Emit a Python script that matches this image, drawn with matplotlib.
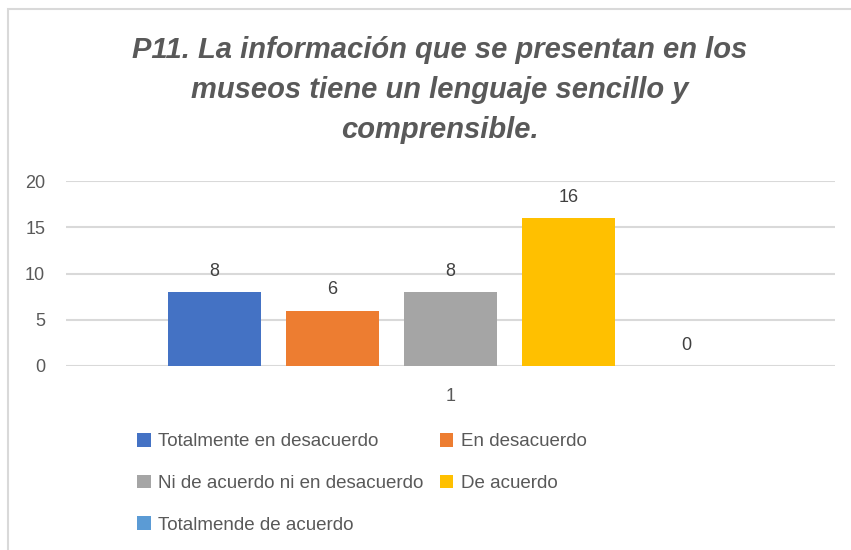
import matplotlib.pyplot as plt
from matplotlib.patches import Rectangle

# data
categories = ['1']
series_names = ['Totalmente en desacuerdo', 'En desacuerdo',
                'Ni de acuerdo ni en desacuerdo', 'De acuerdo',
                'Totalmende de acuerdo']
values = [8, 6, 8, 16, 0]
colors = ['#4472C4', '#ED7D31', '#A5A5A5', '#FFC000', '#5B9BD5']

plt.rcParams['font.family'] = ['Liberation Sans', 'DejaVu Sans']

fig = plt.figure(figsize=(8.51, 5.5), dpi=100)
fig.patches.append(Rectangle((8 / 851, -0.1), 1.2, 1 - 9 / 550 + 0.1,
                             transform=fig.transFigure, fill=False,
                             edgecolor='#D9D9D9', linewidth=1.5))

ax = fig.add_axes([66 / 851, 1 - 366 / 550, (835 - 66) / 851, (366 - 181) / 550])

step = 118 / 769
width = 93 / 769
handles = []
for i, (name, v, c) in enumerate(zip(series_names, values, colors)):
    x = (i - 2) * step
    b = ax.bar(x, v, width=width, color=c, label=name, zorder=3)
    handles.append(b)
    ax.annotate(str(v), (x, v), xytext=(0, 15), textcoords='offset points',
                ha='center', va='center', fontsize=13, color='#404040')

ax.set_xlim(-0.5, 0.5)
ax.set_ylim(0, 20)
ax.set_yticks([0, 5, 10, 15, 20])
ax.set_xticks([0])
ax.set_xticklabels(categories)
ax.grid(axis='y', color='#D9D9D9', linewidth=1.5, zorder=0)
for s in ax.spines.values():
    s.set_visible(False)
ax.tick_params(length=0, labelsize=13, labelcolor='#595959')
ax.tick_params(axis='x', pad=16)
ax.tick_params(axis='y', pad=15)

fig.text(440 / 851, 1 - 90 / 550,
         'P11. La información que se presentan en los\nmuseos tiene un lenguaje sencillo y\ncomprensible.',
         ha='center', va='center', fontsize=21, fontweight='bold',
         fontstyle='italic', color='#595959', linespacing=1.55)

# row-major order in a 2-column legend
order = [0, 2, 4, 1, 3]
fig.legend(handles=[handles[i] for i in order],
           labels=[series_names[i] for i in order], ncol=2,
           loc='upper left', bbox_to_anchor=(128 / 851, 1 - 424 / 550),
           frameon=False, fontsize=13.5, labelcolor='#595959',
           handlelength=0.7, handleheight=0.7, handletextpad=0.4,
           columnspacing=0.9, labelspacing=1.3, borderpad=0)

fig.savefig('out.png', dpi=100)
